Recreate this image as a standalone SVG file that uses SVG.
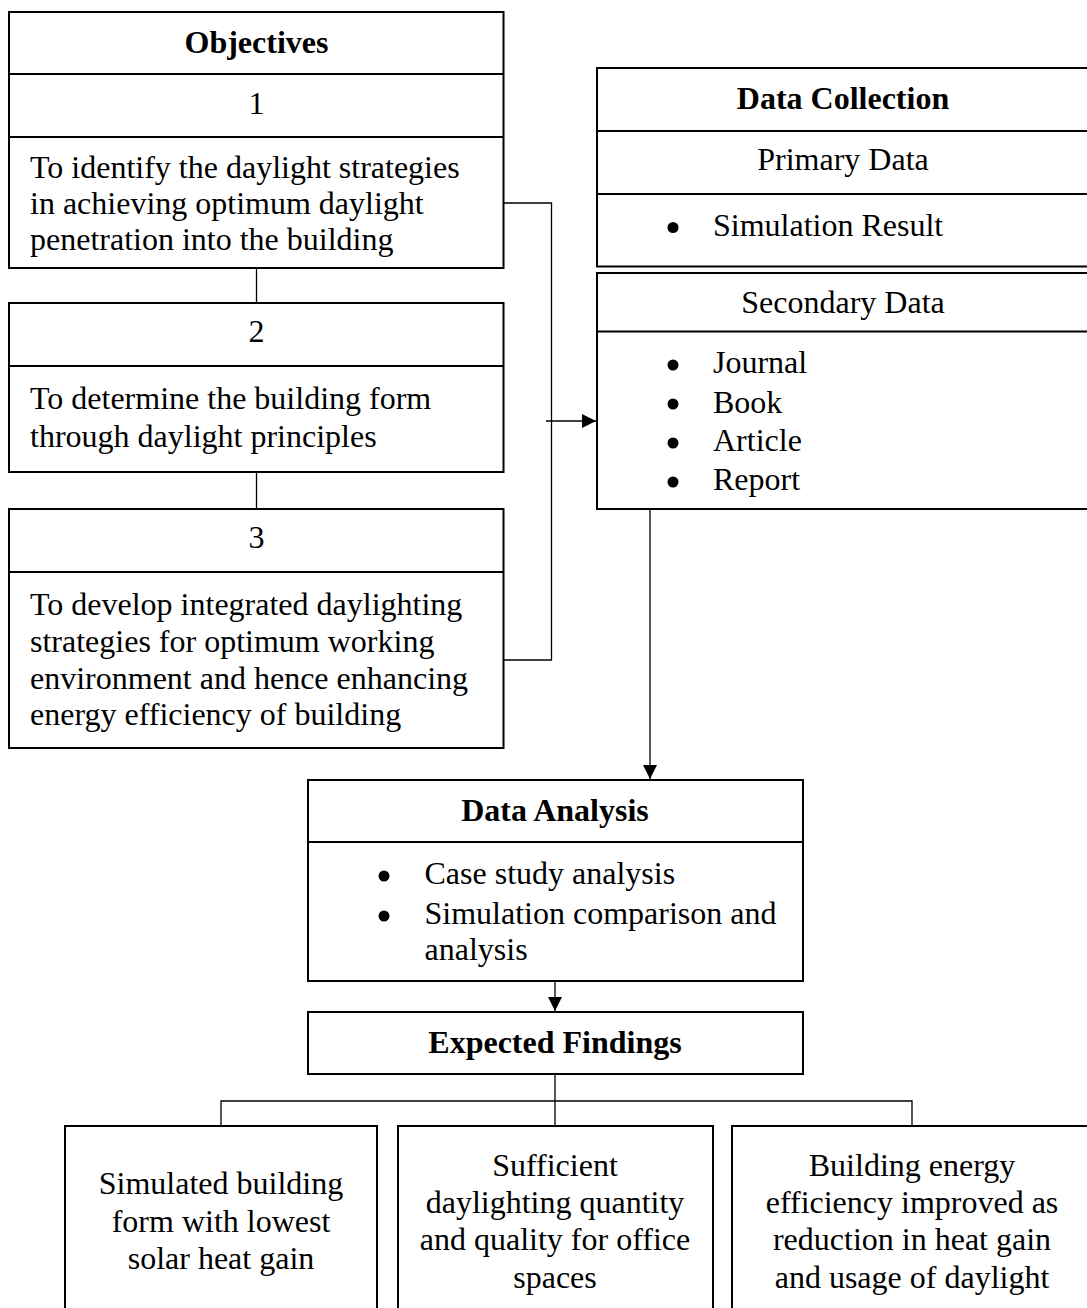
<svg xmlns="http://www.w3.org/2000/svg" width="1087" height="1308" viewBox="0 0 1087 1308">
<style>
.box{fill:#fff;stroke:#000;stroke-width:2}
.div{stroke:#000;stroke-width:2}
.con{fill:none;stroke:#000;stroke-width:1.3}
.dot{fill:#000}
text{font-family:"Liberation Serif","Times New Roman",serif;font-size:32px;fill:#000}
.b{font-weight:bold}
.c{text-anchor:middle}
</style>
<defs>
<marker id="arrB" viewBox="0 0 14 14" refX="14" refY="7" markerWidth="14" markerHeight="14" markerUnits="userSpaceOnUse" orient="auto">
<path d="M0,0 L14,7 L0,14 Z" fill="#000"/>
</marker>
</defs>
<rect width="1087" height="1308" fill="#fff"/>

<g id="connectors">
<line class="con" x1="256.5" y1="268" x2="256.5" y2="303"/>
<line class="con" x1="256.5" y1="472" x2="256.5" y2="509"/>
<polyline class="con" points="503.5,203 551.5,203 551.5,660 503.5,660"/>
<line class="con" x1="546" y1="421" x2="596" y2="421" marker-end="url(#arrB)"/>
<line class="con" x1="650" y1="509" x2="650" y2="779" marker-end="url(#arrB)"/>
<line class="con" x1="555" y1="981" x2="555" y2="1011" marker-end="url(#arrB)"/>
<line class="con" x1="555" y1="1074" x2="555" y2="1126"/>
<polyline class="con" points="221,1126 221,1101 912,1101 912,1126"/>
</g>

<g id="objectives">
<rect class="box" x="9" y="12" width="494.5" height="256"/>
<line class="div" x1="9" y1="74" x2="503.5" y2="74"/>
<line class="div" x1="9" y1="137" x2="503.5" y2="137"/>
<text class="b c" x="256.5" y="53">Objectives</text>
<text class="c" x="256.5" y="114">1</text>
<text x="30" y="178">To identify the daylight strategies</text>
<text x="30" y="213.5">in achieving optimum daylight</text>
<text x="30" y="249.5">penetration into the building</text>
</g>

<g id="objective2">
<rect class="box" x="9" y="303" width="494.5" height="169"/>
<line class="div" x1="9" y1="366" x2="503.5" y2="366"/>
<text class="c" x="256.5" y="342">2</text>
<text x="30" y="408.5">To determine the building form</text>
<text x="30" y="447">through daylight principles</text>
</g>

<g id="objective3">
<rect class="box" x="9" y="509" width="494.5" height="239"/>
<line class="div" x1="9" y1="572" x2="503.5" y2="572"/>
<text class="c" x="256.5" y="548">3</text>
<text x="30" y="615">To develop integrated daylighting</text>
<text x="30" y="652">strategies for optimum working</text>
<text x="30" y="689">environment and hence enhancing</text>
<text x="30" y="725">energy efficiency of building</text>
</g>

<g id="primary-data">
<rect class="box" x="597" y="68" width="500" height="198.5"/>
<line class="div" x1="597" y1="131" x2="1097" y2="131"/>
<line class="div" x1="597" y1="194" x2="1097" y2="194"/>
<text class="b c" x="843" y="109">Data Collection</text>
<text class="c" x="843" y="170">Primary Data</text>
<circle class="dot" cx="673" cy="227.5" r="5.5"/>
<text x="713" y="236">Simulation Result</text>
</g>

<g id="secondary-data">
<rect class="box" x="597" y="273" width="500" height="236"/>
<line class="div" x1="597" y1="331.5" x2="1097" y2="331.5"/>
<text class="c" x="843" y="313">Secondary Data</text>
<circle class="dot" cx="673" cy="365" r="5.5"/>
<text x="713" y="373">Journal</text>
<circle class="dot" cx="673" cy="404" r="5.5"/>
<text x="713" y="413">Book</text>
<circle class="dot" cx="673" cy="443" r="5.5"/>
<text x="713" y="451">Article</text>
<circle class="dot" cx="673" cy="482" r="5.5"/>
<text x="713" y="490">Report</text>
</g>

<g id="data-analysis">
<rect class="box" x="308" y="780" width="495" height="201"/>
<line class="div" x1="308" y1="842" x2="803" y2="842"/>
<text class="b c" x="555" y="821">Data Analysis</text>
<circle class="dot" cx="384" cy="876" r="5.5"/>
<text x="424.5" y="884">Case study analysis</text>
<circle class="dot" cx="384" cy="916" r="5.5"/>
<text x="424.5" y="924">Simulation comparison and</text>
<text x="424.5" y="960">analysis</text>
</g>

<g id="expected-findings">
<rect class="box" x="308" y="1012" width="495" height="62"/>
<text class="b c" x="555" y="1053">Expected Findings</text>
</g>

<g id="finding1">
<rect class="box" x="65" y="1126" width="312" height="200"/>
<text class="c" x="221" y="1194">Simulated building</text>
<text class="c" x="221" y="1232">form with lowest</text>
<text class="c" x="221" y="1269">solar heat gain</text>
</g>

<g id="finding2">
<rect class="box" x="398" y="1126" width="315" height="200"/>
<text class="c" x="555" y="1176">Sufficient</text>
<text class="c" x="555" y="1213">daylighting quantity</text>
<text class="c" x="555" y="1250">and quality for office</text>
<text class="c" x="555" y="1288">spaces</text>
</g>

<g id="finding3">
<rect class="box" x="732" y="1126" width="370" height="200"/>
<text class="c" x="912" y="1176">Building energy</text>
<text class="c" x="912" y="1213">efficiency improved as</text>
<text class="c" x="912" y="1250">reduction in heat gain</text>
<text class="c" x="912" y="1288">and usage of daylight</text>
</g>
</svg>
